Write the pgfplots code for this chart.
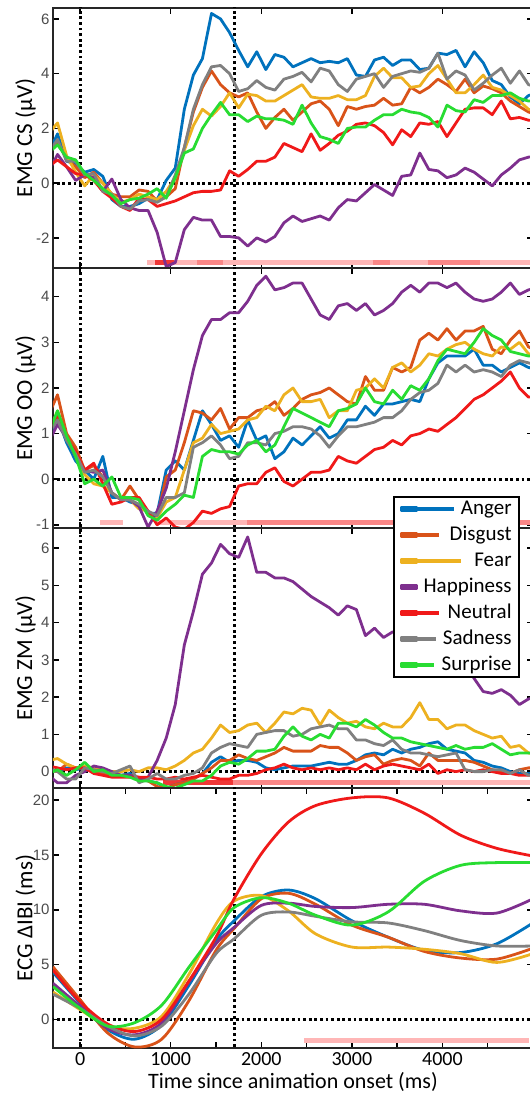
\documentclass[border=0pt]{standalone}
\usepackage{pgfplots}
\pgfplotsset{compat=1.18}
\usepackage{pgfplotstable}
\usepackage{fontspec}
\setmainfont{Carlito}
\newfontfamily\arial{Liberation Sans}

\definecolor{cAnger}{RGB}{0,114,189}
\definecolor{cDisgust}{RGB}{217,83,25}
\definecolor{cFear}{RGB}{237,177,32}
\definecolor{cHappy}{RGB}{126,47,142}
\definecolor{cNeutral}{RGB}{240,25,25}
\definecolor{cSad}{RGB}{128,128,128}
\definecolor{cSurprise}{RGB}{40,220,50}
\definecolor{sigA}{RGB}{255,182,182}
\definecolor{sigB}{RGB}{250,135,135}
\definecolor{sigC}{RGB}{240,55,55}
\definecolor{ticktext}{RGB}{75,75,75}

% EMG corrugator supercilii
\pgfplotstableread{
t A D F H N S U
-350 1.1 1.2 1.8 0.4 0.6 1.1 1.1
-250 1.8 1.5 2.2 1.05 0.85 1.6 1.4
-150 0.8 0.9 1.0 0.6 0.6 0.8 0.95
-50 0.7 0.6 0.4 0.1 0.35 0.8 0.85
50 0.4 0.2 -0.1 0.3 0.3 0.3 0.35
150 0.5 0.4 0.3 0.2 0.1 0.35 0.1
250 0.25 0.0 0.0 -0.3 -0.3 -0.3 -0.2
350 -0.6 -0.4 -0.4 0.15 -0.55 -0.4 -0.45
450 -0.85 -0.5 -0.7 -0.6 -0.85 -0.85 -0.75
550 -0.85 -0.5 -0.6 -0.9 -1.0 -0.95 -0.6
650 -0.75 -0.25 -0.4 -1.0 -0.55 -0.65 -0.55
750 -0.55 -0.3 -0.5 -1.0 -0.6 -0.6 -0.4
850 -0.6 -0.65 -0.6 -1.8 -0.85 -0.7 -0.2
950 0.1 -0.5 -0.3 -3.05 -0.75 -0.5 -0.55
1050 0.55 -0.2 0.2 -2.9 -0.65 0.3 0.2
1150 2.7 1.3 1.2 -1.7 -0.5 1.3 1.1
1250 3.95 2.6 2.1 -1.25 -0.35 2.7 1.25
1350 4.55 3.5 2.7 -1.35 -0.3 3.6 2.0
1450 6.2 4.1 2.45 -1.35 -0.3 4.25 2.5
1550 6.0 3.6 2.8 -1.95 -0.25 4.3 2.95
1650 5.5 3.3 3.3 -1.95 0.45 4.0 2.5
1750 4.85 3.15 2.75 -2.0 0.25 3.35 2.5
1850 4.25 3.3 3.25 -2.3 0.5 3.45 2.25
1950 4.8 2.6 3.2 -2.0 0.8 3.75 2.45
2050 4.15 2.0 3.0 -2.15 0.8 3.5 2.35
2150 4.7 2.4 3.0 -1.95 0.95 3.4 2.35
2250 4.6 2.7 3.2 -1.45 1.45 3.8 2.3
2350 4.25 2.3 3.4 -1.2 1.3 3.9 2.15
2450 4.4 2.6 3.6 -1.4 1.15 4.05 2.85
2550 4.55 2.9 3.15 -1.3 1.8 3.7 2.2
2650 4.4 3.0 3.1 -1.2 1.2 4.2 1.7
2750 4.45 2.7 3.1 -1.35 1.45 4.1 1.6
2850 4.4 2.1 3.2 -0.9 1.75 3.6 1.45
2950 4.55 2.8 3.05 -0.6 1.9 3.35 2.0
3050 3.95 2.7 3.05 -0.65 2.15 3.8 2.05
3150 3.9 2.8 3.2 -0.35 2.2 3.9 2.05
3250 4.5 2.85 3.9 -0.05 2.1 4.0 2.3
3350 4.6 3.1 4.2 -0.25 1.85 3.5 2.5
3450 4.3 2.85 3.85 -0.45 1.4 3.9 2.5
3550 4.5 2.9 3.85 0.25 1.95 4.0 2.7
3650 4.5 3.5 3.5 0.3 1.7 4.1 2.6
3750 4.15 3.3 3.55 1.1 2.2 4.05 2.55
3850 4.2 3.5 4.0 0.5 2.15 4.2 2.4
3950 4.75 3.8 4.3 0.45 2.25 4.75 2.05
4050 4.7 3.6 3.8 0.2 1.7 3.8 2.85
4150 4.85 3.35 3.3 0.3 2.2 4.1 2.65
4250 4.25 3.8 3.3 0.55 2.7 3.95 2.6
4350 4.8 3.3 3.6 0.4 2.75 3.4 3.05
4450 4.4 3.55 3.95 0.15 2.75 3.65 2.95
4550 3.75 3.45 3.5 -0.1 2.5 3.95 3.2
4650 3.6 3.3 3.4 0.3 3.0 4.2 3.2
4750 3.15 3.0 3.2 0.55 2.35 3.65 3.3
4850 2.9 2.8 3.0 0.85 2.4 4.1 3.1
4950 3.2 2.6 2.7 0.95 2.3 3.6 3.0
5050 3.3 2.5 2.6 1.0 2.3 3.5 3.0
}\emgcs

% EMG orbicularis oculi
\pgfplotstableread{
t A D F H N S U
-350 0.9 1.4 1.0 0.8 1.0 1.0 1.0
-250 1.35 1.85 1.5 1.2 1.4 1.3 1.5
-150 0.8 1.0 0.9 0.9 0.9 0.85 0.95
-50 0.4 0.7 0.5 0.5 0.6 0.55 0.5
50 0.2 0.2 0.1 0.2 0.2 0.15 -0.1
150 0.0 0.3 -0.1 0.15 0.35 0.2 0.0
250 0.5 0.05 -0.15 0.2 -0.1 0.05 -0.15
350 -0.4 -0.3 -0.3 -0.3 -0.55 -0.3 0.05
450 -0.4 -0.45 -0.45 -0.45 -0.5 -0.45 -0.4
550 -0.5 -0.15 -0.45 -0.45 -0.4 -0.45 -0.4
650 -0.55 -0.45 -0.65 -0.6 -0.4 -0.55 -0.45
750 -0.75 -0.75 -0.7 -1.05 -0.7 -0.7 -0.8
850 -0.75 -0.85 -0.85 -0.7 -1.0 -0.8 -0.9
950 0.2 0.05 -0.5 -0.2 -0.85 -0.4 -0.7
1050 0.4 0.2 -0.4 0.6 -1.05 -0.4 -0.55
1150 0.2 0.8 0.2 1.5 -1.1 -0.3 -0.35
1250 0.85 1.5 0.8 2.4 -0.95 0.7 -0.4
1350 1.5 1.45 0.9 3.15 -0.7 0.8 0.5
1450 1.2 1.3 1.2 3.5 -0.75 0.95 0.65
1550 0.85 1.55 1.0 3.5 -0.65 0.75 0.6
1650 0.95 1.1 1.05 3.65 -0.6 0.45 0.6
1750 0.7 1.35 1.1 3.65 -0.15 0.5 0.55
1850 1.3 1.35 1.3 3.9 -0.1 0.8 0.75
1950 0.85 1.5 1.35 4.25 -0.1 0.8 0.85
2050 0.95 1.55 1.6 4.45 0.15 0.75 0.6
2150 0.45 1.7 1.5 4.15 0.25 1.0 0.75
2250 0.6 1.4 1.85 4.2 -0.05 1.05 1.15
2350 0.9 1.55 2.0 4.3 -0.15 1.15 1.55
2450 0.75 1.75 1.7 4.3 0.0 1.15 1.45
2550 0.95 1.85 1.7 3.95 0.15 1.1 1.35
2650 1.15 1.9 1.75 3.6 0.15 0.95 1.25
2750 0.9 2.0 1.35 3.5 0.2 0.7 1.15
2850 1.0 1.85 1.5 3.8 0.5 0.95 1.5
2950 1.3 1.7 1.5 3.85 0.4 1.15 1.55
3050 1.3 1.65 1.95 3.7 0.35 1.15 1.65
3150 1.6 2.25 2.0 3.85 0.5 1.2 2.0
3250 1.4 1.95 2.2 3.6 0.65 1.25 1.7
3350 1.65 1.95 2.0 3.7 0.7 1.35 1.65
3450 1.65 2.45 2.45 3.85 0.85 1.35 1.95
3550 1.7 2.35 2.55 4.1 0.75 1.5 1.75
3650 1.75 2.45 2.35 4.25 0.95 1.75 2.05
3750 1.7 3.05 2.5 4.1 1.0 1.9 1.95
3850 2.2 3.2 2.75 4.3 1.1 1.95 2.2
3950 2.55 3.05 2.7 4.3 1.05 2.1 2.6
4050 2.7 3.3 2.85 4.2 1.2 2.5 2.85
4150 2.7 3.05 2.95 4.3 1.35 2.35 2.8
4250 2.7 3.25 3.0 4.1 1.55 2.5 2.75
4350 2.85 3.25 2.85 3.95 1.75 2.35 3.0
4450 2.5 3.35 2.75 3.9 1.85 2.4 3.3
4550 2.5 2.85 2.7 3.95 2.0 2.35 3.15
4650 2.35 2.75 2.9 4.1 2.15 2.25 3.05
4750 2.45 3.05 2.85 4.3 2.35 2.5 2.8
4850 2.55 3.25 3.0 4.05 2.0 2.6 2.75
4950 2.45 2.9 2.75 4.15 1.8 2.55 2.7
5050 2.4 2.8 2.7 4.2 1.8 2.5 2.7
}\emgoo

% EMG zygomaticus major
\pgfplotstableread{
t A D F H N S U
-350 0.05 0.05 0.3 -0.1 0.15 0.1 -0.05
-250 0.0 0.0 0.35 -0.3 0.1 0.0 0.05
-150 0.1 0.2 0.2 -0.3 0.05 -0.2 -0.1
-50 0.05 0.1 0.1 -0.1 0.1 -0.2 0.05
50 0.1 0.1 0.15 0.0 0.1 0.1 0.25
150 0.05 0.0 0.1 0.15 -0.05 0.05 0.0
250 0.0 -0.05 0.05 0.1 -0.1 0.0 0.05
350 -0.05 -0.05 0.0 0.0 -0.15 -0.05 -0.1
450 -0.1 -0.1 0.0 -0.1 -0.15 0.05 -0.1
550 -0.05 -0.1 0.05 -0.1 -0.15 0.15 -0.15
650 -0.2 -0.15 0.0 -0.2 -0.15 -0.3 -0.25
750 -0.25 -0.25 0.1 -0.15 -0.15 -0.2 -0.25
850 -0.3 -0.4 0.1 0.3 -0.2 -0.05 -0.3
950 -0.45 -0.45 0.05 0.9 -0.2 -0.2 -0.4
1050 -0.35 -0.35 0.15 1.8 -0.15 -0.2 -0.45
1150 -0.3 -0.3 0.3 3.4 -0.2 -0.1 -0.35
1250 -0.2 -0.2 0.5 4.3 -0.15 -0.05 -0.25
1350 -0.05 -0.05 0.6 5.3 -0.1 0.1 -0.25
1450 0.25 0.1 0.9 5.6 -0.15 0.5 -0.1
1550 0.4 0.3 1.25 6.1 -0.2 0.65 0.15
1650 0.25 0.3 1.05 5.85 -0.2 0.75 0.25
1750 0.3 0.45 1.1 5.75 -0.1 0.7 0.2
1850 0.3 0.35 1.25 6.3 -0.1 0.65 0.35
1950 0.25 0.3 1.3 5.35 -0.05 1.0 0.55
2050 0.1 0.4 1.05 5.35 0.05 1.05 0.55
2150 0.05 0.5 1.3 5.2 0.1 1.1 0.6
2250 0.1 0.65 1.6 5.2 0.2 1.1 0.95
2350 0.15 0.55 1.55 5.1 0.1 0.95 1.2
2450 0.15 0.55 1.7 4.9 0.05 1.0 0.95
2550 0.15 0.55 1.65 4.7 0.1 1.15 0.85
2650 0.2 0.7 1.25 4.55 0.05 1.2 1.0
2750 0.25 0.65 1.65 4.4 0.1 1.25 0.9
2850 0.2 0.65 1.45 4.2 0.05 1.15 1.3
2950 0.2 0.5 1.3 4.45 0.1 1.15 1.3
3050 0.3 0.3 1.35 4.35 0.05 0.85 1.2
3150 0.45 0.4 1.2 3.65 0.2 0.85 1.4
3250 0.5 0.45 1.15 3.85 0.05 0.75 1.25
3350 0.45 0.2 1.3 3.6 0.15 0.7 1.05
3450 0.6 0.3 1.2 3.75 0.2 0.85 0.9
3550 0.5 0.35 1.2 3.7 0.15 0.6 0.9
3650 0.6 0.3 1.45 3.6 0.1 0.5 0.8
3750 0.65 0.15 1.85 3.5 0.05 0.5 0.75
3850 0.75 0.5 1.4 3.4 0.2 0.45 0.7
3950 0.8 0.3 1.4 3.3 -0.05 0.4 0.65
4050 0.6 0.3 1.15 3.2 0.05 0.45 0.6
4150 0.55 0.3 1.25 3.1 0.0 0.5 0.7
4250 0.5 0.3 1.25 2.9 0.05 0.05 0.6
4350 0.3 0.25 1.1 2.5 0.0 0.0 0.65
4450 0.25 0.15 1.0 2.15 0.05 0.0 0.65
4550 0.15 0.05 0.9 2.1 0.0 0.05 0.75
4650 0.1 0.0 0.95 2.2 -0.05 0.05 0.6
4750 0.0 -0.05 0.65 2.05 -0.05 -0.05 0.45
4850 -0.05 0.05 0.7 1.8 -0.1 0.05 0.5
4950 -0.05 0.1 0.5 1.95 -0.1 -0.1 0.5
5050 -0.05 0.1 0.45 2.0 -0.1 -0.1 0.5
}\emgzm

% ECG inter-beat interval change
\pgfplotstableread{
t A D F H N S U
-300 4.3 4.8 2.5 3.3 4.5 2.3 3.0
0 1.5 1.8 0.9 1.2 1.6 1.0 1.0
300 -0.9 -1.2 -0.6 -0.8 -0.4 -0.6 -0.6
600 -1.8 -2.5 -0.8 -1.4 -1.1 -1.5 -0.3
900 -0.5 -1.8 0.3 -0.3 0.0 -0.6 1.3
1200 3.1 1.7 4.1 3.4 3.5 2.3 4.75
1500 7.2 6.3 8.7 6.9 7.5 6.0 8.1
1700 9.0 8.3 10.8 8.4 11.0 7.35 10.2
2000 11.2 11.0 11.3 10.4 15.1 9.5 11.1
2300 11.8 11.5 9.9 10.6 18.0 9.8 10.6
2600 11.0 10.5 7.8 10.3 19.5 9.4 9.5
3000 9.0 8.6 6.6 10.2 20.2 8.9 8.6
3400 7.5 7.5 6.6 10.5 20.2 8.8 9.8
3800 6.3 6.2 6.4 10.5 18.8 8.1 12.6
4200 6.1 5.6 6.0 9.9 16.8 7.2 14.05
4600 6.9 5.5 5.2 9.7 15.6 6.7 14.3
5000 8.8 6.5 6.0 11.0 14.9 6.7 14.3
}\ecg

\tikzset{
  refline/.style={black, line width=2.8pt, dash pattern=on 2.8pt off 2.8pt},
}
\pgfplotsset{
  emo/.style={line width=2.8pt, line join=round},
  % legend sample: 15pt reserved, longer line drawn as overlay
  lg/.style={legend image code/.code={
      \draw[##1, line width=3.4pt, overlay] (0pt,0pt) -- (#1,0pt);
      \path (0pt,-2pt) rectangle (15pt,2pt);}},
  sig/.style={forget plot, line width=5pt, color=#1},
  panel/.style={
    scale only axis, width=480pt, height=260pt,
    anchor=south west,
    xmin=-300, xmax=5000,
    xtick={0,1000,2000,3000,4000}, xticklabels={},
    tick align=inside, major tick length=6pt, minor tick length=6pt,
    every tick/.style={black, line width=1.5pt},
    axis line style={line width=2pt, black!85},
    /pgf/number format/assume math mode=true,
    yticklabel style={font=\arial\fontsize{15}{15}\selectfont, text=ticktext},
    ylabel style={at={(axis description cs:-0.057,0.5)}, anchor=center,
      font=\fontsize{23}{23}\selectfont},
  },
}

\newcommand{\allseries}[2][]{
  \addplot[emo, cAnger, lg=53pt, #1] table[x=t, y=A] {#2};
  \addplot[emo, cDisgust, lg=38pt, #1] table[x=t, y=D] {#2};
  \addplot[emo, cFear, lg=60pt, #1] table[x=t, y=F] {#2};
  \addplot[emo, cHappy, lg=15pt, #1] table[x=t, y=H] {#2};
  \addplot[emo, cNeutral, lg=38pt, #1] table[x=t, y=N] {#2};
  \addplot[emo, cSad, lg=35pt, #1] table[x=t, y=S] {#2};
  \addplot[emo, cSurprise, lg=33pt, #1] table[x=t, y=U] {#2};
}
\newcommand{\reflines}{
  \draw[refline] (axis cs:0,-100) -- (axis cs:0,100);
  \draw[refline] (axis cs:1700,-100) -- (axis cs:1700,100);
  \draw[refline] (axis cs:-1000,0) -- (axis cs:6000,0);
}

\begin{document}
\begin{tikzpicture}
% EMG CS
\begin{axis}[panel, at={(53pt,825pt)},
  ymin=-3.1, ymax=6.4, ytick={-2,0,2,4,6}, ylabel={EMG CS (µV)}]
  \reflines
  \addplot[sig=sigA] coordinates {(740,-2.9) (5050,-2.9)};
  \addplot[sig=sigC] coordinates {(830,-2.9) (1040,-2.9)};
  \addplot[sig=sigB] coordinates {(1290,-2.9) (1580,-2.9)};
  \addplot[sig=sigB] coordinates {(3230,-2.9) (3420,-2.9)};
  \addplot[sig=sigB] coordinates {(3840,-2.9) (4420,-2.9)};
  \allseries{\emgcs}
\end{axis}
% EMG OO
\begin{axis}[panel, at={(53pt,565pt)},
  ymin=-1.07, ymax=4.63, ytick={-1,0,...,4}, ylabel={EMG OO (µV)}]
  \reflines
  \addplot[sig=sigA] coordinates {(220,-0.94) (475,-0.94)};
  \addplot[sig=sigA] coordinates {(830,-0.94) (5050,-0.94)};
  \addplot[sig=sigB] coordinates {(1840,-0.94) (5050,-0.94)};
  \allseries{\emgoo}
\end{axis}
% EMG ZM
\begin{axis}[panel, at={(53pt,305pt)},
  ymin=-0.44, ymax=6.54, ytick={0,1,...,6}, ylabel={EMG ZM (µV)},
  legend cell align=right,
  legend style={at={(axis description cs:0.708,1.123)}, anchor=north west,
    draw=black, line width=2pt, fill=white,
    font=\fontsize{21}{21}\selectfont, row sep=6pt, column sep=5pt,
    inner xsep=6pt, inner ysep=2pt,
    nodes={inner sep=1pt, text height=14pt, text depth=4pt}}]
  \reflines
  \addplot[sig=sigA] coordinates {(2500,-0.3) (5050,-0.3)};
  \addplot[sig=sigB] coordinates {(1690,-0.3) (3530,-0.3)};
  \addplot[sig=sigC] coordinates {(918,-0.3) (1690,-0.3)};
  \allseries{\emgzm}
  \legend{Anger,Disgust,Fear,Happiness,Neutral,Sadness,Surprise}
\end{axis}
% ECG
\begin{axis}[panel, at={(53pt,45pt)},
  ymin=-2.6, ymax=21.1, ytick={0,5,...,20}, ylabel={ECG ΔIBI (ms)},
  minor xtick={500,1500,2500,3500,4500},
  xticklabels={0,1000,2000,3000,4000},
  xticklabel style={font=\fontsize{20}{20}\selectfont, text=black,
    inner sep=0pt, text height=13pt, text depth=0pt, yshift=-4pt},
  xlabel={Time since animation onset (ms)},
  xlabel style={at={(axis description cs:0.5,0)}, anchor=north,
    font=\fontsize{22}{22}\selectfont, inner sep=0pt, yshift=-24pt}]
  \reflines
  \addplot[sig=sigA] coordinates {(2470,-1.95) (4955,-1.95)};
  \allseries[smooth]{\ecg}
\end{axis}
\pgfresetboundingbox
\useasboundingbox (0,0) rectangle (530pt,1093pt);
\end{tikzpicture}
\end{document}
